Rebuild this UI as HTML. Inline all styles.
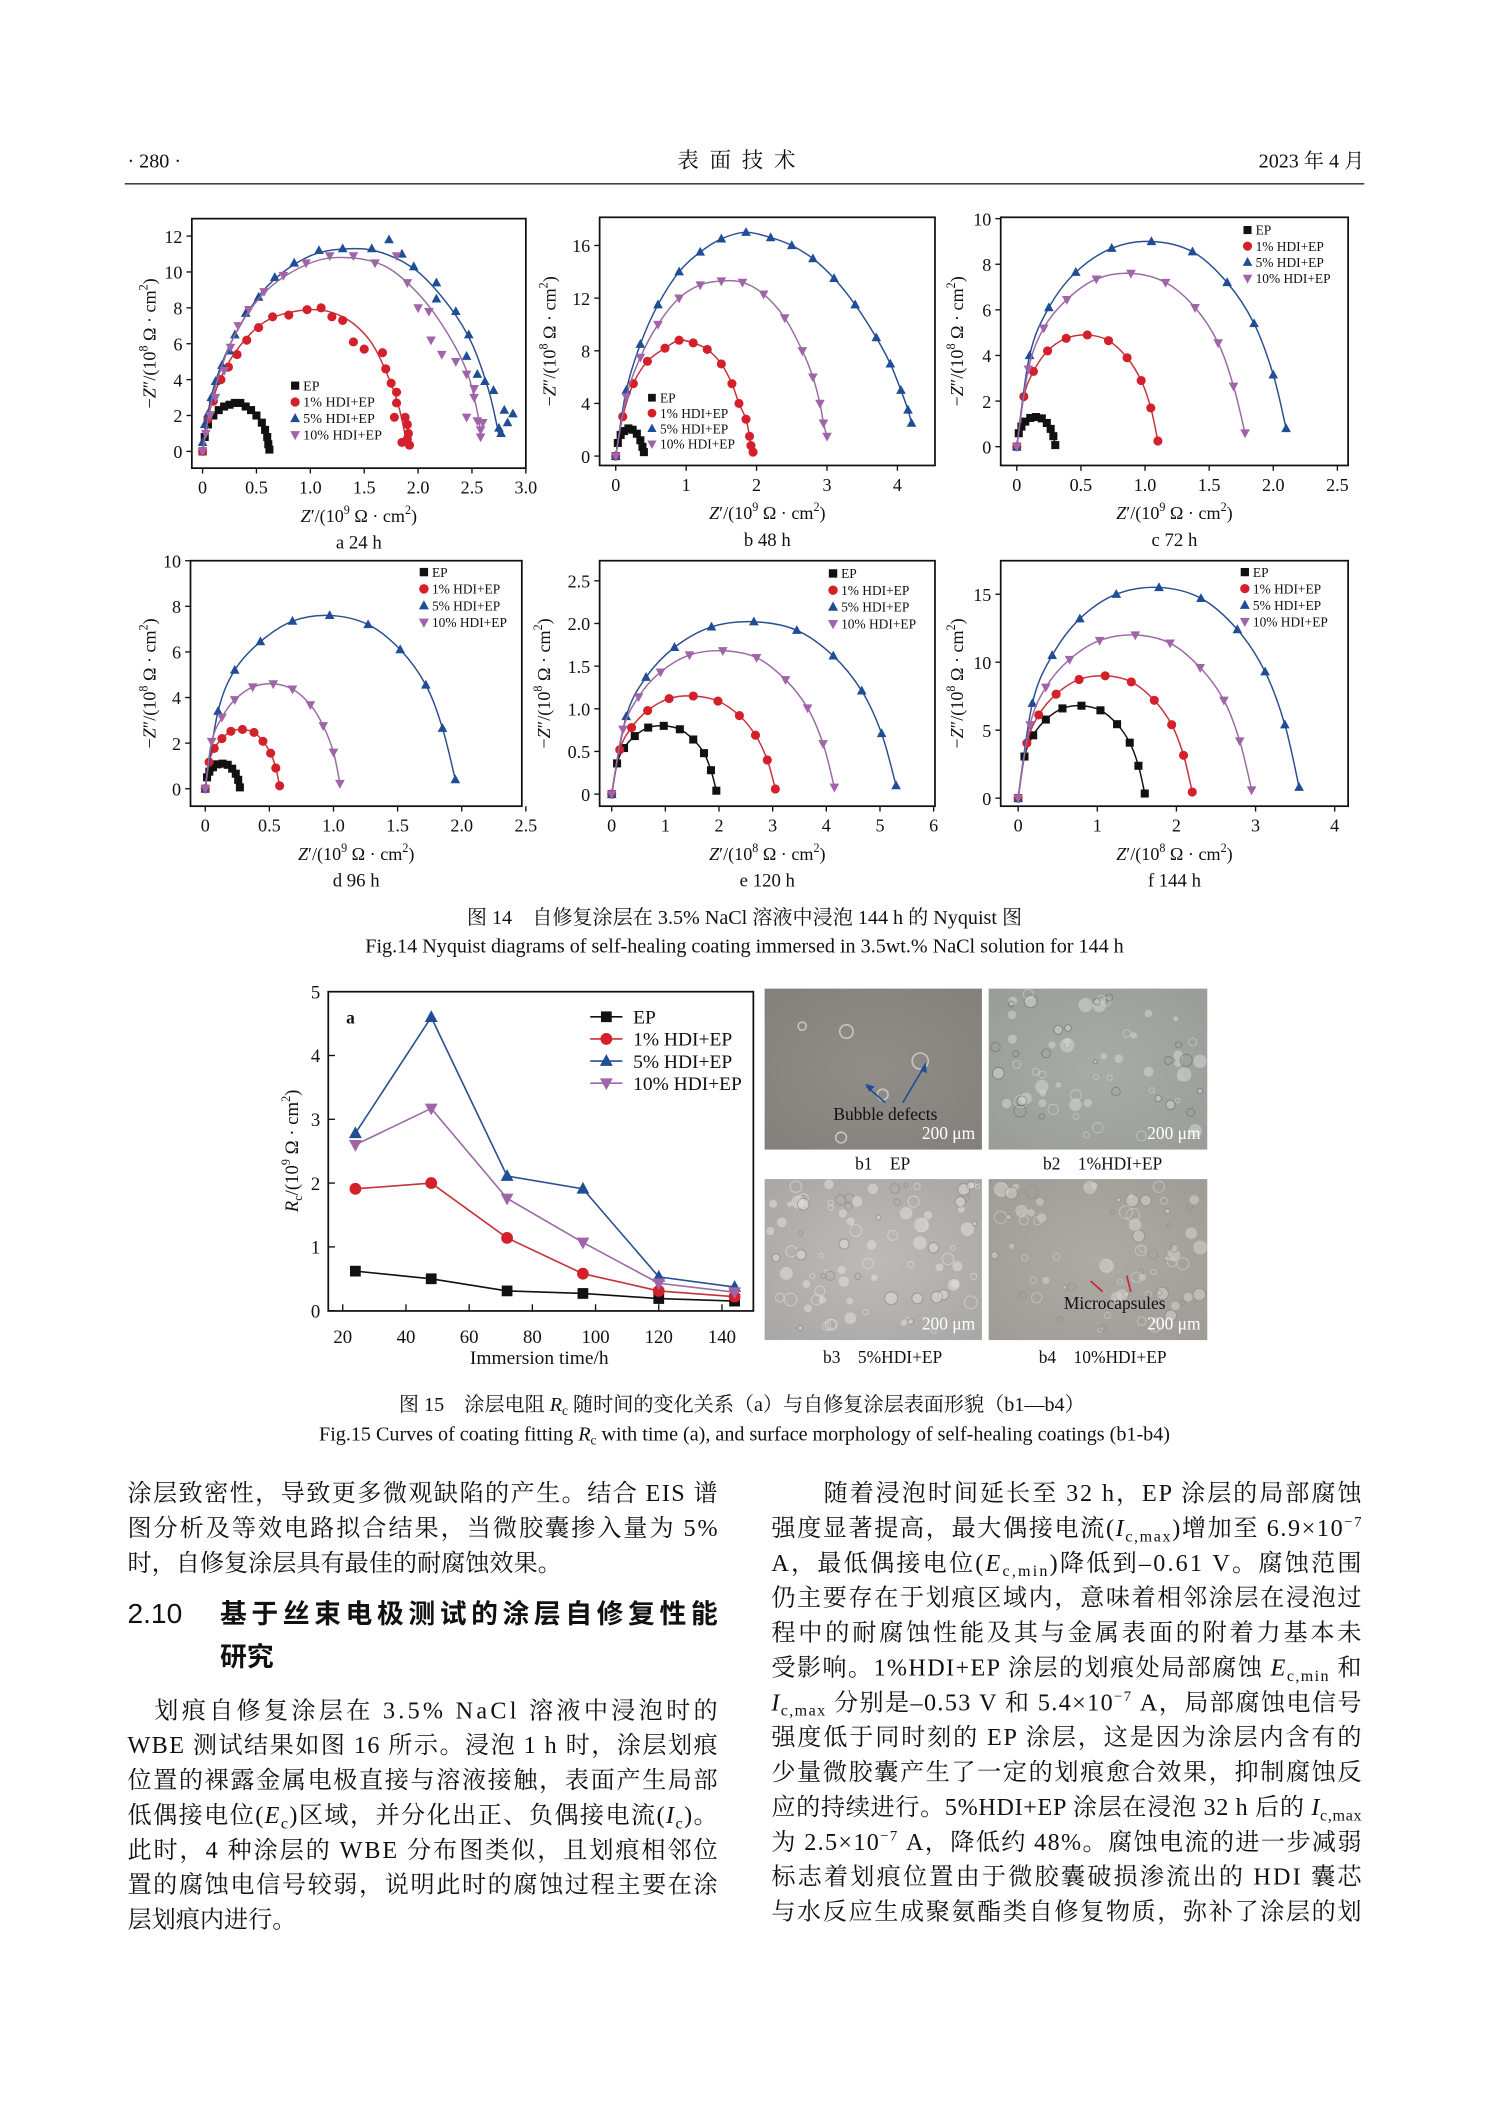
<!DOCTYPE html>
<html><head><meta charset="utf-8">
<style>
html,body{margin:0;padding:0;background:#fff;}
svg{display:block;}
.t{font-family:"Liberation Serif","Noto Serif CJK SC",serif;fill:#111;}
.s{font-family:"Liberation Sans","Noto Sans CJK SC",sans-serif;fill:#111;}
</style></head>
<body>
<svg id="page" width="1489" height="2106" viewBox="0 0 1110 1570" xmlns="http://www.w3.org/2000/svg">
<defs>
<radialGradient id="g1" cx="50%" cy="50%" r="70%"><stop offset="0" stop-color="#918d89"/><stop offset="1" stop-color="#837f7b"/></radialGradient>
<radialGradient id="g2" cx="50%" cy="50%" r="70%"><stop offset="0" stop-color="#a9aba7"/><stop offset="1" stop-color="#9a9c98"/></radialGradient>
<radialGradient id="g3" cx="50%" cy="50%" r="70%"><stop offset="0" stop-color="#bdbbb9"/><stop offset="1" stop-color="#a9a7a5"/></radialGradient>
<radialGradient id="g4" cx="50%" cy="50%" r="70%"><stop offset="0" stop-color="#aeaaa6"/><stop offset="1" stop-color="#9f9b97"/></radialGradient>
</defs>
<g>
<text class="t" x="95" y="125" font-size="15">· 280 ·</text>
<text class="t" x="553" y="125" font-size="16" text-anchor="middle" letter-spacing="8">表面技术</text>
<text class="t" x="1017" y="125" font-size="15" text-anchor="end">2023 年 4 月</text>
<line x1="93" y1="137" x2="1017" y2="137" stroke="#222" stroke-width="1"/>
</g>
<g id="charts"></g>
<g>
<text class="t" x="555" y="689" font-size="15" text-anchor="middle">图 14　自修复涂层在 3.5% NaCl 溶液中浸泡 144 h 的 Nyquist 图</text>
<text class="t" x="555" y="710" font-size="15" text-anchor="middle">Fig.14 Nyquist diagrams of self-healing coating immersed in 3.5wt.% NaCl solution for 144 h</text>
</g>
<g id="fig15"></g>
<g>
<rect x="570" y="737" width="162" height="120" fill="url(#g1)"/>
<rect x="737" y="737" width="163" height="120" fill="url(#g2)"/>
<rect x="570" y="879" width="162" height="120" fill="url(#g3)"/>
<rect x="737" y="879" width="163" height="120" fill="url(#g4)"/>
<g fill="none" stroke="#d8d4d0" stroke-width="1.2" opacity="0.8">
<circle cx="631" cy="769" r="5"/><circle cx="686" cy="791" r="6"/><circle cx="658" cy="816" r="4"/><circle cx="627" cy="848" r="4"/><circle cx="598" cy="765" r="3"/>
</g>
<g id="speckles"></g>
<line x1="660" y1="822" x2="646" y2="810" stroke="#1f4e96" stroke-width="1.2"/><polygon points="645,808 652,810 648,814" fill="#1f4e96"/>
<line x1="673" y1="822" x2="689" y2="795" stroke="#1f4e96" stroke-width="1.2"/><polygon points="690,792 691,800 686,798" fill="#1f4e96"/>
<text class="t" x="660" y="835" font-size="13" text-anchor="middle">Bubble defects</text>
<text class="t" x="727" y="849" font-size="13" text-anchor="end" style="fill:#fff">200 μm</text>
<text class="t" x="895" y="849" font-size="13" text-anchor="end" style="fill:#fff">200 μm</text>
<text class="t" x="727" y="991" font-size="13" text-anchor="end" style="fill:#fff">200 μm</text>
<text class="t" x="895" y="991" font-size="13" text-anchor="end" style="fill:#fff">200 μm</text>
<line x1="822" y1="963" x2="813" y2="955" stroke="#d0202a" stroke-width="1.2"/>
<line x1="843" y1="963" x2="840" y2="951" stroke="#d0202a" stroke-width="1.2"/>
<text class="t" x="831" y="976" font-size="13" text-anchor="middle">Microcapsules</text>
<text class="t" x="658" y="872" font-size="13" text-anchor="middle">b1　EP</text>
<text class="t" x="822" y="872" font-size="13" text-anchor="middle">b2　1%HDI+EP</text>
<text class="t" x="658" y="1016" font-size="13" text-anchor="middle">b3　5%HDI+EP</text>
<text class="t" x="822" y="1016" font-size="13" text-anchor="middle">b4　10%HDI+EP</text>
</g>
<g>
<text class="t" x="553" y="1052" font-size="15" text-anchor="middle">图 15　涂层电阻 <tspan font-style="italic">R</tspan><tspan font-size="10" dy="3">c</tspan><tspan dy="-3"> 随时间的变化关系（a）与自修复涂层表面形貌（b1—b4）</tspan></text>
<text class="t" x="555" y="1074" font-size="15" text-anchor="middle">Fig.15 Curves of coating fitting <tspan font-style="italic">R</tspan><tspan font-size="10" dy="3">c</tspan><tspan dy="-3"> with time (a), and surface morphology of self-healing coatings (b1-b4)</tspan></text>
</g>
<g id="body"></g>
</svg>
<script>
const NS='http://www.w3.org/2000/svg';
function mk(tag,attrs,parent){const e=document.createElementNS(NS,tag);for(const k in attrs)e.setAttribute(k,attrs[k]);if(parent)parent.appendChild(e);return e;}

// ---------- Fig.14 data (x in Z' units, y in -Z'' units) ----------
const a_EP=[[0,0],[0.02,0.8],[0.05,1.5],[0.1,2.0],[0.15,2.3],[0.2,2.5],[0.25,2.6],[0.3,2.7],[0.35,2.7],[0.4,2.5],[0.45,2.3],[0.5,2.0],[0.55,1.6],[0.58,1.2],[0.6,0.8],[0.61,0.4],[0.62,0.1]];
const a_1=[[0,0],[0.05,1.8],[0.1,2.8],[0.17,4.0],[0.24,4.7],[0.32,5.4],[0.41,6.2],[0.52,6.9],[0.65,7.5],[0.8,7.6],[0.97,7.9],[1.1,8.0],[1.2,7.5],[1.3,7.3],[1.4,6.1],[1.5,5.7],[1.67,5.5],[1.7,4.6],[1.75,3.8],[1.8,3.3],[1.8,2.7],[1.78,1.9],[1.88,1.9],[1.9,1.5],[1.91,1.0],[1.9,0.7],[1.85,0.5],[1.92,0.35]];
const a_1fit=[[0,0],[0.1,3.0],[0.3,5.5],[0.6,7.3],[1.0,7.9],[1.3,7.5],[1.55,6.2],[1.72,4.2],[1.82,2.5],[1.88,0.9],[1.9,0.4]];
const a_5=[[0,0.5],[0.02,1.5],[0.05,2.1],[0.08,3.0],[0.12,3.9],[0.18,4.8],[0.25,5.6],[0.3,6.5],[0.4,7.7],[0.52,8.6],[0.67,9.7],[0.85,10.5],[1.08,11.2],[1.3,11.3],[1.57,11.3],[1.73,11.8],[1.85,11.0],[1.96,10.3],[2.17,9.4],[2.17,8.5],[2.35,7.8],[2.47,6.5],[2.45,5.3],[2.55,4.3],[2.62,3.9],[2.7,3.4],[2.8,2.3],[2.88,2.1],[2.83,1.6],[2.75,1.3],[2.77,1.0]];
const a_5fit=[[0,0.3],[0.1,3.5],[0.3,6.5],[0.6,9.2],[1.0,10.9],[1.4,11.3],[1.7,11.0],[2.0,10.0],[2.3,8.0],[2.5,6.0],[2.65,3.5],[2.73,1.5],[2.75,0.9]];
const a_10=[[0,0],[0.03,1.0],[0.07,2.0],[0.12,3.0],[0.2,4.5],[0.26,5.8],[0.33,7.0],[0.43,7.9],[0.57,8.9],[0.75,9.8],[0.96,10.5],[1.18,10.9],[1.4,10.9],[1.6,10.5],[1.8,10.9],[1.9,9.4],[2.0,8.0],[2.1,7.8],[2.12,6.2],[2.22,5.4],[2.35,5.0],[2.45,4.3],[2.52,3.5],[2.52,3.0],[2.45,1.9],[2.55,1.7],[2.6,1.6],[2.58,1.2],[2.58,0.8]];
const a_10fit=[[0,0],[0.1,3.2],[0.3,6.5],[0.6,9.0],[1.0,10.5],[1.35,10.8],[1.7,10.3],[2.0,8.8],[2.25,6.8],[2.45,4.5],[2.55,2.2],[2.58,0.9]];

const b_EP=[[0,0],[0.03,1.0],[0.07,1.6],[0.12,1.9],[0.18,2.1],[0.24,2.0],[0.3,1.7],[0.35,1.2],[0.38,0.7],[0.4,0.3]];
const b_1=[[0,0],[0.1,3],[0.25,5.5],[0.45,7.2],[0.7,8.2],[0.9,8.8],[1.1,8.6],[1.3,8.1],[1.5,7.0],[1.65,5.5],[1.75,4.0],[1.85,2.8],[1.9,1.5],[1.92,0.8],[1.95,0.3]];
const b_5=[[0,0],[0.15,5],[0.35,8.5],[0.6,11.5],[0.9,14],[1.2,15.5],[1.5,16.5],[1.85,17.0],[2.2,16.6],[2.5,16.0],[2.8,15.0],[3.1,13.5],[3.4,11.5],[3.7,9.0],[3.9,7.0],[4.05,5.0],[4.15,3.5],[4.2,2.5]];
const b_10=[[0,0],[0.15,4.5],[0.35,7.5],[0.6,10],[0.9,12],[1.2,13],[1.5,13.3],[1.8,13.2],[2.1,12.3],[2.4,10.5],[2.65,8.0],[2.8,6.0],[2.9,4.0],[2.95,2.5],[3.0,1.5]];

const c_EP=[[0,0],[0.015,0.59],[0.036,0.88],[0.066,1.1],[0.105,1.26],[0.15,1.3],[0.195,1.24],[0.234,1.04],[0.264,0.78],[0.285,0.46],[0.3,0.07]];
const c_1=[[0,0],[0.055,2.2],[0.13,3.3],[0.24,4.2],[0.385,4.75],[0.55,4.9],[0.715,4.65],[0.86,3.9],[0.97,2.9],[1.045,1.7],[1.1,0.25]];
const c_5=[[0,0],[0.1,4.0],[0.25,6.1],[0.46,7.65],[0.74,8.7],[1.05,9.0],[1.37,8.55],[1.64,7.2],[1.85,5.4],[2.0,3.15],[2.1,0.8]];
const c_10=[[0,0],[0.09,3.4],[0.21,5.2],[0.39,6.45],[0.62,7.35],[0.89,7.6],[1.16,7.2],[1.39,6.1],[1.57,4.55],[1.69,2.65],[1.78,0.6]];

const d_EP=[[0,0],[0.014,0.5],[0.032,0.75],[0.06,0.94],[0.095,1.07],[0.135,1.1],[0.175,1.05],[0.21,0.88],[0.238,0.66],[0.257,0.39],[0.27,0.06]];
const d_1=[[0,0],[0.03,1.17],[0.07,1.77],[0.13,2.2],[0.2,2.52],[0.29,2.6],[0.38,2.47],[0.45,2.08],[0.51,1.56],[0.55,0.91],[0.58,0.13]];
const d_5=[[0,0],[0.1,3.4],[0.23,5.2],[0.43,6.45],[0.68,7.35],[0.97,7.6],[1.27,7.2],[1.52,6.1],[1.72,4.55],[1.85,2.65],[1.95,0.4]];
const d_10=[[0,0],[0.05,2.07],[0.13,3.13],[0.23,3.9],[0.37,4.46],[0.53,4.6],[0.68,4.37],[0.82,3.68],[0.92,2.76],[1.0,1.6],[1.05,0.23]];

const e_EP=[[0,0],[0.1,0.36],[0.23,0.54],[0.43,0.68],[0.68,0.78],[0.97,0.8],[1.27,0.76],[1.52,0.64],[1.72,0.48],[1.85,0.28],[1.95,0.04]];
const e_1=[[0,0],[0.15,0.52],[0.37,0.78],[0.67,0.98],[1.07,1.12],[1.52,1.15],[1.98,1.09],[2.38,0.92],[2.68,0.69],[2.9,0.4],[3.05,0.06]];
const e_5=[[0,0],[0.27,0.91],[0.64,1.37],[1.17,1.72],[1.86,1.96],[2.65,2.02],[3.45,1.92],[4.13,1.62],[4.66,1.21],[5.03,0.71],[5.3,0.1]];
const e_10=[[0,0],[0.21,0.76],[0.5,1.14],[0.91,1.43],[1.45,1.63],[2.07,1.68],[2.7,1.6],[3.24,1.34],[3.65,1.01],[3.94,0.59],[4.15,0.08]];

const f_EP=[[0,0],[0.08,3.06],[0.19,4.62],[0.35,5.78],[0.56,6.6],[0.8,6.8],[1.04,6.46],[1.25,5.44],[1.41,4.08],[1.52,2.38],[1.6,0.34]];
const f_1=[[0,0],[0.11,4.05],[0.26,6.12],[0.48,7.65],[0.77,8.73],[1.1,9.0],[1.43,8.55],[1.72,7.2],[1.94,5.4],[2.09,3.15],[2.2,0.45]];
const f_5=[[0,0],[0.18,6.98],[0.43,10.5],[0.78,13.2],[1.24,15.0],[1.78,15.5],[2.31,14.7],[2.77,12.4],[3.12,9.3],[3.37,5.4],[3.55,0.8]];
const f_10=[[0,0],[0.15,5.4],[0.35,8.16],[0.65,10.2],[1.03,11.6],[1.48,12.0],[1.92,11.4],[2.3,9.6],[2.6,7.2],[2.8,4.2],[2.95,0.6]];

const a_xticks=[0,0.5,1.0,1.5,2.0,2.5,3.0], a_yticks=[0,2,4,6,8,10,12];
const b_xticks=[0,1,2,3,4], b_yticks=[0,4,8,12,16];
const c_xticks=[0,0.5,1.0,1.5,2.0,2.5], c_yticks=[0,2,4,6,8,10];
const d_xticks=[0,0.5,1.0,1.5,2.0,2.5], d_yticks=[0,2,4,6,8,10];
const e_xticks=[0,1,2,3,4,5,6], e_yticks=[0,0.5,1.0,1.5,2.0,2.5];
const f_xticks=[0,1,2,3,4], f_yticks=[0,5,10,15];
const tickLabelsX={a:['0','0.5','1.0','1.5','2.0','2.5','3.0'],c:['0','0.5','1.0','1.5','2.0','2.5'],d:['0','0.5','1.0','1.5','2.0','2.5'],e:['0','1','2','3','4','5','6']};
const tickLabelsY={e:['0','0.5','1.0','1.5','2.0','2.5']};
const seriesNames=['EP','1% HDI+EP','5% HDI+EP','10% HDI+EP'];

const COLORS=['#111','#d3202a','#1f4e96','#a064a8'];
const LINECOL=['#111','#c8303a','#2a4f90','#9a6aa4'];

function marker(g,k,x,y,s){
  let e;
  if(k===0) e=mk('rect',{x:x-s/2,y:y-s/2,width:s,height:s,fill:COLORS[0]},g);
  else if(k===1) e=mk('circle',{cx:x,cy:y,r:s/2+0.4,fill:COLORS[1]},g);
  else if(k===2) e=mk('polygon',{points:`${x},${y-s*0.65} ${x-s*0.6},${y+s*0.45} ${x+s*0.6},${y+s*0.45}`,fill:COLORS[2]},g);
  else e=mk('polygon',{points:`${x},${y+s*0.65} ${x-s*0.6},${y-s*0.45} ${x+s*0.6},${y-s*0.45}`,fill:COLORS[3]},g);
  
  
  return e;
}
function smooth(pts){
  let d=`M${pts[0][0]},${pts[0][1]}`;
  for(let i=0;i<pts.length-1;i++){
    const p0=pts[i-1]||pts[i],p1=pts[i],p2=pts[i+1],p3=pts[i+2]||p2;
    const c1=[p1[0]+(p2[0]-p0[0])/6,p1[1]+(p2[1]-p0[1])/6],c2=[p2[0]-(p3[0]-p1[0])/6,p2[1]-(p3[1]-p1[1])/6];
    d+=` C${c1[0]},${c1[1]} ${c2[0]},${c2[1]} ${p2[0]},${p2[1]}`;
  }
  return d;
}

function nyquist(cfg){
  const root=document.getElementById('charts');
  const g=mk('g',{},root);
  
  
  const [L,T,R,B]=cfg.box;
  const X=v=>cfg.x0+(v-cfg.xr[0])/(cfg.xr[1]-cfg.xr[0])*(cfg.x1-cfg.x0);
  const Y=v=>cfg.y0-(v-cfg.yr[0])/(cfg.yr[1]-cfg.yr[0])*(cfg.y0-cfg.y1);
  const fr=mk('rect',{x:L,y:T,width:R-L,height:B-T,fill:'none',stroke:'#111','stroke-width':1.3},g);
  
  
  cfg.xticks.forEach((v,i)=>{
    mk('line',{x1:X(v),y1:B,x2:X(v),y2:B+4,stroke:'#111','stroke-width':1},g);
    const t=mk('text',{x:X(v),y:B+19,'font-size':13.5,'text-anchor':'middle',class:'t'},g);
    t.textContent=(tickLabelsX[cfg.id]||cfg.xticks.map(String))[i];
    
    
  });
  cfg.yticks.forEach((v,i)=>{
    mk('line',{x1:L-4,y1:Y(v),x2:L,y2:Y(v),stroke:'#111','stroke-width':1},g);
    const t=mk('text',{x:L-7,y:Y(v)+5,'font-size':13.5,'text-anchor':'end',class:'t'},g);
    t.textContent=(tickLabelsY[cfg.id]||cfg.yticks.map(String))[i];
    
    
  });
  cfg.series.forEach((s,k)=>{
    const fit=(cfg.fits&&cfg.fits[k])||s;
    const p=mk('path',{d:smooth(fit.map(q=>[X(q[0]),Y(q[1])])),fill:'none',stroke:LINECOL[k],'stroke-width':1.1},g);
    
    
    s.forEach(q=>marker(g,k,X(q[0]),Y(q[1]),6));
  });
  const lg=mk('g',{},g);
  
  
  seriesNames.forEach((n,k)=>{
    const yy=cfg.leg[1]+k*cfg.leg[2];
    marker(lg,k,cfg.leg[0],yy-3.5,cfg.leg[2]*0.5);
    const t=mk('text',{x:cfg.leg[0]+6,y:yy,'font-size':cfg.leg[3],class:'t'},lg);
    t.textContent=n;
    
    
  });
  const cy=(T+B)/2;
  const yt=mk('text',{x:cfg.ytx,y:cy,'font-size':13.5,'text-anchor':'middle',class:'t',transform:`rotate(-90 ${cfg.ytx} ${cy})`},g);
  yt.innerHTML='−<tspan font-style="italic">Z</tspan>″/(10<tspan font-size="9" dy="-6">8</tspan><tspan dy="6"> Ω · cm</tspan><tspan font-size="9" dy="-6">2</tspan><tspan dy="6">)</tspan>';
  
  
  const cx=(L+R)/2;
  const xt=mk('text',{x:cx,y:B+40,'font-size':13.5,'text-anchor':'middle',class:'t'},g);
  xt.innerHTML='<tspan font-style="italic">Z</tspan>′/(10<tspan font-size="9" dy="-6">'+cfg.xe+'</tspan><tspan dy="6"> Ω · cm</tspan><tspan font-size="9" dy="-6">2</tspan><tspan dy="6">)</tspan>';
  
  
  const sl=mk('text',{x:cx,y:B+60,'font-size':14,'text-anchor':'middle',class:'t'},g);
  sl.textContent=cfg.label;
  
  
}

nyquist({id:'a',box:[143,163,392,349],xr:[0,3],x0:151,x1:392,yr:[0,12],y0:336.5,y1:176,xticks:a_xticks,yticks:a_yticks,series:[a_EP,a_1,a_5,a_10],fits:[null,a_1fit,a_5fit,a_10fit],leg:[220,291,12.2,10.5],ytx:116,xe:'9',label:'a  24 h'});
nyquist({id:'b',box:[447,162,697,347],xr:[0,4],x0:459,x1:669,yr:[0,16],y0:340,y1:183,xticks:b_xticks,yticks:b_yticks,series:[b_EP,b_1,b_5,b_10],leg:[486,300,11.5,10],ytx:414,xe:'9',label:'b  48 h'});
nyquist({id:'c',box:[746,162,1005,347],xr:[0,2.5],x0:758,x1:997,yr:[0,10],y0:333,y1:163,xticks:c_xticks,yticks:c_yticks,series:[c_EP,c_1,c_5,c_10],leg:[930,175,12,10],ytx:718,xe:'9',label:'c  72 h'});
nyquist({id:'d',box:[142,418,389,601],xr:[0,2.5],x0:153,x1:392,yr:[0,10],y0:588,y1:418,xticks:d_xticks,yticks:d_yticks,series:[d_EP,d_1,d_5,d_10],leg:[316,430,12.5,10],ytx:116,xe:'9',label:'d 96 h'});
nyquist({id:'e',box:[447,418,697,601],xr:[0,6],x0:456,x1:696,yr:[0,2.5],y0:592,y1:433,xticks:e_xticks,yticks:e_yticks,series:[e_EP,e_1,e_5,e_10],leg:[621,431,12.5,10],ytx:410,xe:'8',label:'e  120 h'});
nyquist({id:'f',box:[746,418,1005,601],xr:[0,4],x0:759,x1:995,yr:[0,15],y0:595,y1:443,xticks:f_xticks,yticks:f_yticks,series:[f_EP,f_1,f_5,f_10],leg:[928,430,12.3,10],ytx:718,xe:'8',label:'f  144 h'});

// ---------- Fig.15a data ----------
const hours=[24,48,72,96,120,144];
const rcEP=[0.62,0.5,0.31,0.27,0.19,0.15];
const rc1=[1.91,2.0,1.14,0.58,0.31,0.22];
const rc5=[2.78,4.6,2.11,1.91,0.53,0.37];
const rc10=[2.6,3.17,1.76,1.07,0.43,0.29];
const f15xticks=[20,40,60,80,100,120,140];
const f15yticks=[0,1,2,3,4,5];
(function(){
  const g=document.getElementById('fig15');
  
  
  const L=244.7,T=739.3,R=561.6,B=977.3;
  const X=v=>255.5+(v-20)/120*(538.2-255.5);
  const Y=v=>977.1-v/5*(977.1-739.3);
  mk('rect',{x:L,y:T,width:R-L,height:B-T,fill:'none',stroke:'#111','stroke-width':1.3},g);
  f15xticks.forEach(v=>{
    mk('line',{x1:X(v),y1:B,x2:X(v),y2:B-5,stroke:'#111','stroke-width':1},g);
    const t=mk('text',{x:X(v),y:B+24,'font-size':14,'text-anchor':'middle',class:'t'},g);t.textContent=String(v);
    
    
  });
  f15yticks.forEach(v=>{
    mk('line',{x1:L,y1:Y(v),x2:L+5,y2:Y(v),stroke:'#111','stroke-width':1},g);
    const t=mk('text',{x:L-6,y:Y(v)+5,'font-size':14,'text-anchor':'end',class:'t'},g);t.textContent=String(v);
    
    
  });
  [rcEP,rc1,rc5,rc10].forEach((s,k)=>{
    const pl=mk('polyline',{points:s.map((v,i)=>X(hours[i])+','+Y(v)).join(' '),fill:'none',stroke:LINECOL[k],'stroke-width':1.2},g);
    
    
    s.forEach((v,i)=>marker(g,k,X(hours[i]),Y(v),8));
  });
  const lg=mk('g',{},g);
  
  
  seriesNames.forEach((n,k)=>{
    const yy=763+k*16.5;
    mk('line',{x1:440,y1:yy-5,x2:464,y2:yy-5,stroke:LINECOL[k],'stroke-width':1.2},lg);
    marker(lg,k,452,yy-5,8);
    const t=mk('text',{x:472,y:yy,'font-size':14.5,class:'t'},lg);t.textContent=n;
    
    
  });
  const a=mk('text',{x:258,y:763,'font-size':13,'font-weight':'bold',class:'t'},g);a.textContent='a';
  
  
  const cy=858;
  const yt=mk('text',{x:222,y:cy,'font-size':14,'text-anchor':'middle',class:'t',transform:`rotate(-90 222 ${cy})`},g);
  yt.innerHTML='<tspan font-style="italic">R</tspan><tspan font-size="9" dy="3">c</tspan><tspan dy="-3">/(10</tspan><tspan font-size="9" dy="-6">9</tspan><tspan dy="6"> Ω · cm</tspan><tspan font-size="9" dy="-6">2</tspan><tspan dy="6">)</tspan>';
  
  
  const xt=mk('text',{x:402,y:1017,'font-size':14.5,'text-anchor':'middle',class:'t'},g);xt.textContent='Immersion time/h';
  
  
})();

// decorative micrograph texture
(function(){
  const g=document.getElementById('speckles');
  let seed=7;
  const rnd=()=>{seed=(seed*9301+49297)%233280;return seed/233280;};
  const panels=[[737,737,'#d4d6d2','#6e706c',70],[570,879,'#e2e0de','#8a8886',90],[737,879,'#d6d2ce','#8e8a86',80]];
  panels.forEach(p=>{
    for(let i=0;i<p[4];i++){
      const x=p[0]+4+rnd()*155,y=p[1]+4+rnd()*110,r=1.5+rnd()*3.5;
      const c=mk('circle',{cx:x,cy:y,r:r,fill:rnd()<0.5?'none':p[2],stroke:rnd()<0.3?p[3]:p[2],'stroke-width':0.8,opacity:0.55},g);
      
      
    }
  });
})();

// ---------- Body text ----------
const SUB=(a,b)=>`<tspan font-style="italic">${a}</tspan><tspan font-size="12" dy="4">${b}</tspan><tspan dy="-4">`;
const leftLines=[
 ['涂层致密性，导致更多微观缺陷的产生。结合 EIS 谱',1119,true],
 ['图分析及等效电路拟合结果，当微胶囊掺入量为 5%',1145,true],
 ['时，自修复涂层具有最佳的耐腐蚀效果。',1171,false],
 ['划痕自修复涂层在 3.5% NaCl 溶液中浸泡时的',1281,true,115],
 ['WBE 测试结果如图 16 所示。浸泡 1 h 时，涂层划痕',1307,true],
 ['位置的裸露金属电极直接与溶液接触，表面产生局部',1333,true],
 ['低偶接电位('+SUB('E','c')+')区域，并分化出正、负偶接电流('+SUB('I','c')+')。</tspan></tspan>',1359,true],
 ['此时，4 种涂层的 WBE 分布图类似，且划痕相邻位',1385,true],
 ['置的腐蚀电信号较弱，说明此时的腐蚀过程主要在涂',1411,true],
 ['层划痕内进行。',1437,false]
];
const rightLines=[
 ['随着浸泡时间延长至 32  h，EP 涂层的局部腐蚀',1119,true,614],
 ['强度显著提高，最大偶接电流('+SUB('I','c,max')+')增加至 6.9×10<tspan font-size="11" dy="-7">−7</tspan><tspan dy="7"></tspan></tspan>',1145,true],
 ['A，最低偶接电位('+SUB('E','c,min')+')降低到–0.61 V。腐蚀范围</tspan>',1171,true],
 ['仍主要存在于划痕区域内，意味着相邻涂层在浸泡过',1197,true],
 ['程中的耐腐蚀性能及其与金属表面的附着力基本未',1223,true],
 ['受影响。1%HDI+EP 涂层的划痕处局部腐蚀 '+SUB('E','c,min')+' 和</tspan>',1249,true],
 [SUB('I','c,max')+' 分别是–0.53  V 和 5.4×10<tspan font-size="11" dy="-7">−7</tspan><tspan dy="7">  A，局部腐蚀电信号</tspan></tspan>',1275,true],
 ['强度低于同时刻的 EP 涂层，这是因为涂层内含有的',1301,true],
 ['少量微胶囊产生了一定的划痕愈合效果，抑制腐蚀反',1327,true],
 ['应的持续进行。5%HDI+EP 涂层在浸泡 32 h 后的 '+SUB('I','c,max')+'</tspan>',1353,true],
 ['为 2.5×10<tspan font-size="11" dy="-7">−7</tspan><tspan dy="7"> A，降低约 48%。腐蚀电流的进一步减弱</tspan>',1379,true],
 ['标志着划痕位置由于微胶囊破损渗流出的 HDI 囊芯',1405,true],
 ['与水反应生成聚氨酯类自修复物质，弥补了涂层的划',1431,true]
];
(function(){
  const g=document.getElementById('body');
  function put(lines,x0,x1){
    lines.forEach(l=>{
      const sx=l[3]||x0;
      const t=mk('text',{x:sx,y:l[1],'font-size':18,class:'t'},g);
      if(l[2]){t.setAttribute('textLength',x1-sx);t.setAttribute('lengthAdjust','spacing');}
      t.innerHTML=l[0];
      
      
    });
  }
  put(leftLines,95,535);
  put(rightLines,575,1015);
  const n=mk('text',{x:95,y:1210,'font-size':21,class:'s'},g);
  n.textContent='2.10';
  
  
  const h1=mk('text',{x:164,y:1210,'font-size':20,class:'s','font-weight':'bold',textLength:371,lengthAdjust:'spacing'},g);
  h1.textContent='基于丝束电极测试的涂层自修复性能';
  
  
  const h2=mk('text',{x:164,y:1242,'font-size':20,class:'s','font-weight':'bold'},g);
  h2.textContent='研究';
  
  
})();
</script>
</body></html>
